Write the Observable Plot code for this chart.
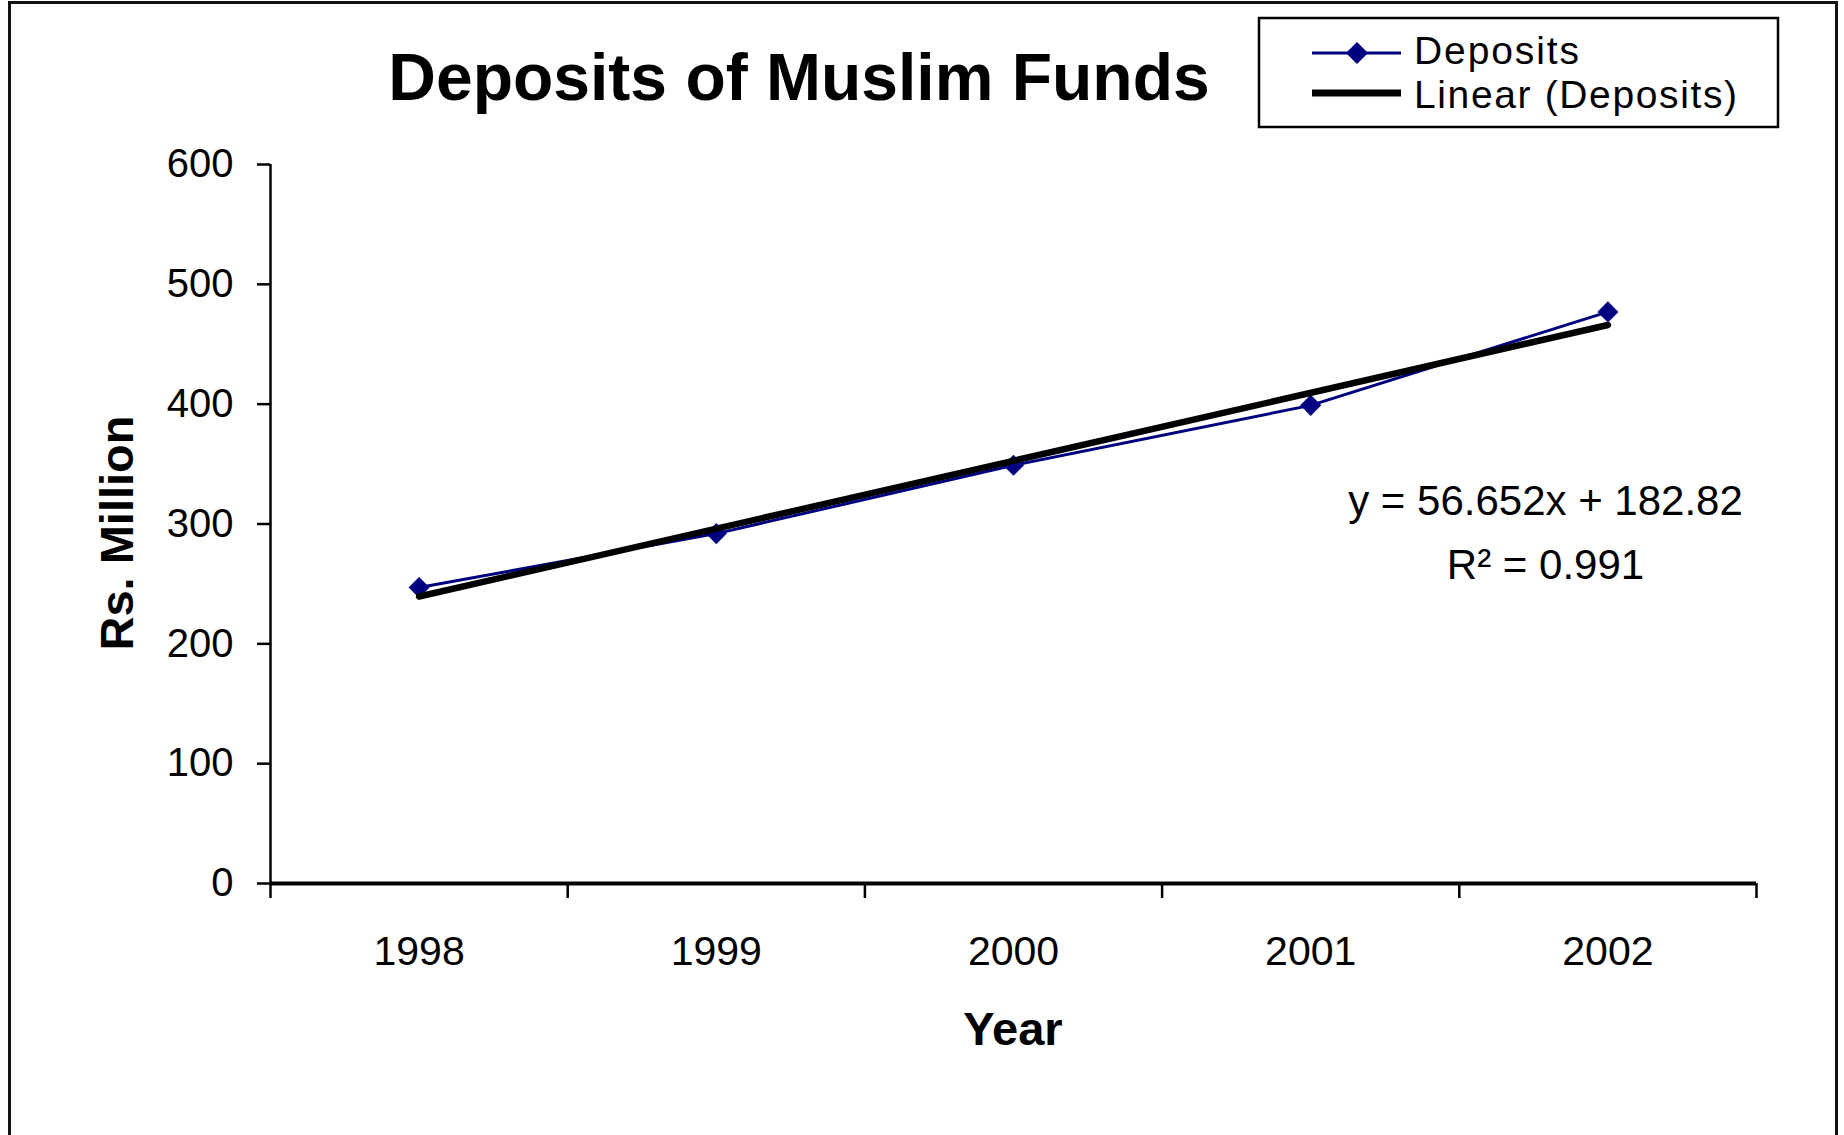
<!DOCTYPE html>
<html><head><meta charset="utf-8">
<script src="https://cdn.jsdelivr.net/npm/d3@7"></script>
<script src="https://cdn.jsdelivr.net/npm/@observablehq/plot@0.6"></script>
<style>
body{margin:0;background:#fff;}
#wrap{position:relative;width:1844px;height:1135px;overflow:hidden;font-family:"Liberation Sans",Arial,sans-serif;background:#fff;}
#frame{position:absolute;left:8px;top:1px;width:1830px;height:1200px;border:3px solid #111;box-sizing:border-box;}
#chart{position:absolute;left:0;top:0;}
#overlay{position:absolute;left:0;top:0;}
</style>
</head><body>
<div id="wrap"><div id="frame"></div><div id="chart"></div><svg id="overlay" width="1844" height="1135"></svg></div>
<script>
const title = "Deposits of Muslim Funds";
const years = ["1998", "1999", "2000", "2001", "2002"];
const deposits = [247, 292, 349, 399, 477];
const trendSlope = 56.652;
const trendIntercept = 182.82;
const yTicks = [0, 100, 200, 300, 400, 500, 600];
const seriesNames = ["Deposits", "Linear (Deposits)"];
const eqLabels = ["y = 56.652x + 182.82", "R\u00B2 = 0.991"];
const eqX = [4.79, 4.79];
const eqY = [319, 265];
const xTitle = "Year";
const yTitle = "Rs. Million";

const navy = "#000080";
const data = years.map((yr, i) => ({i: i + 1, year: yr, value: deposits[i]}));
const trend = [1, years.length].map(i => ({i, value: trendSlope * i + trendIntercept}));
const bounds = d3.range(0.5, years.length + 1, 1);
const eqData = eqLabels.map((t, k) => ({t, x: eqX[k], y: eqY[k]}));

const chart = Plot.plot({
  width: 1844, height: 1135,
  marginLeft: 270, marginRight: 88, marginTop: 164, marginBottom: 252,
  style: {fontFamily: "'Liberation Sans', Arial, sans-serif", color: "#000", background: "transparent"},
  x: {domain: [0.5, years.length + 0.5]},
  y: {domain: [0, 600]},
  marks: [
    Plot.axisY({ticks: yTicks, tickSize: 13, tickPadding: 24, label: null, fontSize: 40, strokeWidth: 2.5}),
    Plot.axisX({ticks: bounds, tickSize: 15, tickFormat: () => "", label: null, strokeWidth: 2.5}),
    Plot.axisX({ticks: data.map(d => d.i), tickSize: 0, tickPadding: 52, tickFormat: i => years[i - 1], label: null, fontSize: 41}),
    Plot.ruleX([0.5], {y1: 0, y2: 600, stroke: "#000", strokeWidth: 2.5}),
    Plot.ruleY([0], {stroke: "#000", strokeWidth: 4}),
    Plot.line(data, {x: "i", y: "value", stroke: navy, strokeWidth: 3}),
    Plot.dot(data, {x: "i", y: "value", symbol: "diamond2", r: 9.5, fill: navy, stroke: null}),
    Plot.line(trend, {x: "i", y: "value", stroke: "#000", strokeWidth: 6.5}),
    Plot.text(eqData, {x: "x", y: "y", text: "t", fontSize: 42, textAnchor: "middle", fill: "#000"})
  ]
});
document.getElementById("chart").appendChild(chart);

const ov = d3.select("#overlay").style("font-family", "'Liberation Sans', Arial, sans-serif");
ov.append("text").attr("x", 799).attr("y", 100).attr("text-anchor", "middle")
  .attr("font-size", 66).attr("font-weight", "bold").text(title);
ov.append("text").attr("x", 1013).attr("y", 1045).attr("text-anchor", "middle")
  .attr("font-size", 47).attr("font-weight", "bold").text(xTitle);
ov.append("text").attr("transform", "translate(133,533) rotate(-90)").attr("text-anchor", "middle")
  .attr("font-size", 47).attr("font-weight", "bold").text(yTitle);

// legend
const lg = ov.append("g");
lg.append("rect").attr("x", 1259).attr("y", 18).attr("width", 519).attr("height", 109)
  .attr("fill", "#fff").attr("stroke", "#000").attr("stroke-width", 2.5);
lg.append("line").attr("x1", 1312).attr("x2", 1401).attr("y1", 53).attr("y2", 53)
  .attr("stroke", navy).attr("stroke-width", 3);
lg.append("path").attr("d", "M1357,42L1368,53L1357,64L1346,53Z").attr("fill", navy);
lg.append("line").attr("x1", 1312).attr("x2", 1401).attr("y1", 93).attr("y2", 93)
  .attr("stroke", "#000").attr("stroke-width", 7);
lg.append("text").attr("x", 1414).attr("y", 64).attr("font-size", 39).attr("textLength", 165).text(seriesNames[0]);
lg.append("text").attr("x", 1414).attr("y", 108).attr("font-size", 39).attr("textLength", 323).text(seriesNames[1]);
</script>
</body></html>
